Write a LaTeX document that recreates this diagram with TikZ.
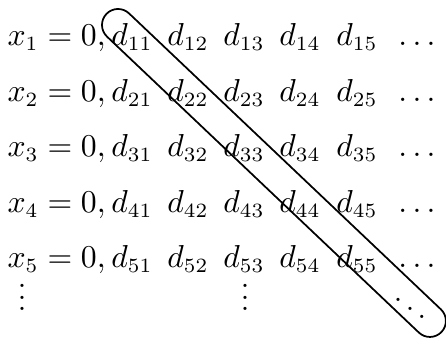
\documentclass[tikz,border=0pt]{standalone}
\begin{document}
\begin{tikzpicture}[x=0.345pt, y=-0.345pt, font=\fontsize{10.5}{13}\selectfont,
        entry/.style={anchor=base, inner sep=0pt}]
        \useasboundingbox (0,0) rectangle (446,338);

        % Filas: x_i = 0, d_i1 d_i2 ...
        \foreach \i/\yb in {1/46, 2/101.5, 3/157, 4/212.5, 5/268} {
            \node[entry, anchor=base west] (x\i) at (7,\yb) {$x_{\i} = 0,$};
            \foreach \j/\xc in {1/132, 2/188, 3/244, 4/300, 5/357} {
                \node[entry] (d\i\j) at (\xc,\yb) {$d_{\i\j}$};
            }
            \node[entry] (h\i) at (417,\yb) {$\dots$};
        }

        % Puntos verticales y diagonales
        \node[entry] (v1) at (22,311) {$\vdots$};
        \node[entry] (v3) at (245,311) {$\vdots$};
        \node[inner sep=0pt] (dd) at (410,300) {$\ddots$};

        % La diagonal
        \begin{scope}[shift={(118,25)}, rotate=-43.5]
            \draw[semithick] (0,16) -- (430,16) arc[start angle=90, end angle=-90, radius=16]
                -- (0,-16) arc[start angle=270, end angle=90, radius=16] -- cycle;
        \end{scope}
    \end{tikzpicture}
\end{document}
